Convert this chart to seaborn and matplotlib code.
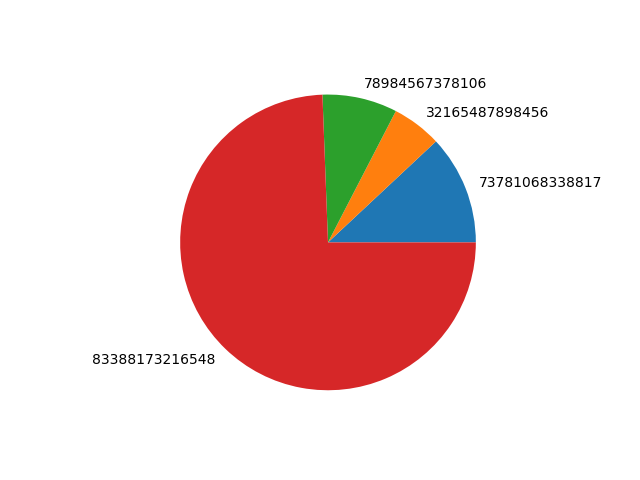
import matplotlib
matplotlib.use("Agg")
import matplotlib.pyplot as plt
import seaborn as sns

labels = ['73781068338817', '32165487898456', '78984567378106', '83388173216548']
sizes = [11.97, 5.44, 8.19, 74.4]

colors = sns.color_palette('tab10', 4)

fig, ax = plt.subplots(figsize=(6.4, 4.8), dpi=100)
ax.pie(sizes, labels=labels, colors=colors)
fig.savefig('out.png')
